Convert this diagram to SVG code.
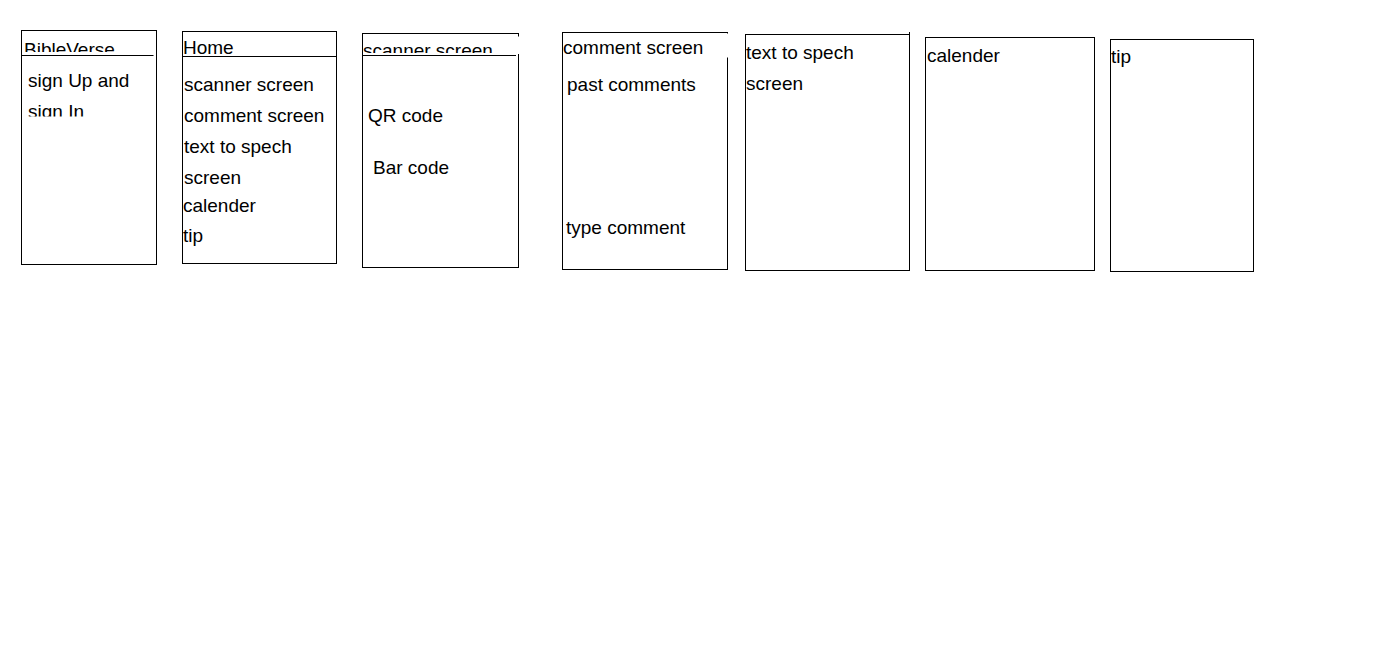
<svg xmlns="http://www.w3.org/2000/svg" width="1374" height="646" viewBox="0 0 1374 646">
<style>
.box{fill:#fff;stroke:#000;stroke-width:1}
.ln{stroke:#000;stroke-width:1;fill:none}
.mask{fill:#fff;stroke:none}
text{font-family:"Liberation Sans",Arial,sans-serif;font-size:19px;fill:#000}
</style>
<defs>
<clipPath id="c1h"><rect x="22" y="31" width="134" height="21"/></clipPath>
<clipPath id="c1b"><rect x="22" y="56" width="134" height="60.5"/></clipPath>
<clipPath id="c3h"><rect x="363" y="34" width="155" height="19"/></clipPath>
</defs>
<rect width="1374" height="646" fill="#fff"/>
<g id="bibleverse">
<rect class="box" x="21.5" y="30.5" width="135" height="234"/>
<line class="ln" x1="21.5" y1="55.5" x2="153.5" y2="55.5"/>
<text x="24" y="56" clip-path="url(#c1h)">BibleVerse</text>
<g clip-path="url(#c1b)">
<text x="28" y="87">sign Up and</text>
<text x="28" y="118">sign In</text>
</g>
</g>
<g id="home">
<rect class="box" x="182.5" y="31.5" width="154" height="232"/>
<line class="ln" x1="182.5" y1="56.5" x2="336.5" y2="56.5"/>
<text x="183" y="54">Home</text>
<text x="184" y="91">scanner screen</text>
<text x="184" y="122">comment screen</text>
<text x="184" y="153">text to spech</text>
<text x="184" y="184">screen</text>
<text x="183" y="212">calender</text>
<text x="183" y="242">tip</text>
</g>
<g id="scanner">
<rect class="box" x="362.5" y="33.5" width="156" height="234"/>
<rect class="mask" x="517" y="36.5" width="3" height="17.5"/>
<line class="ln" x1="362.5" y1="55.5" x2="516" y2="55.5"/>
<text x="363" y="57" clip-path="url(#c3h)">scanner screen</text>
<text x="368" y="122">QR code</text>
<text x="373" y="174">Bar code</text>
</g>
<g id="comment">
<rect class="box" x="562.5" y="32.5" width="165" height="237"/>
<rect class="mask" x="726" y="33.5" width="3" height="24"/>
<text x="563" y="54">comment screen</text>
<text x="567" y="91">past comments</text>
<text x="566" y="234">type comment</text>
</g>
<g id="tts">
<rect class="box" x="745.5" y="34.5" width="164" height="236"/>
<line class="ln" x1="909.5" y1="32" x2="909.5" y2="35"/>
<text x="746" y="59">text to spech</text>
<text x="746" y="90">screen</text>
</g>
<g id="calender">
<rect class="box" x="925.5" y="37.5" width="169" height="233"/>
<text x="927" y="62">calender</text>
</g>
<g id="tip">
<rect class="box" x="1110.5" y="39.5" width="143" height="232"/>
<text x="1111" y="63">tip</text>
</g>
</svg>
